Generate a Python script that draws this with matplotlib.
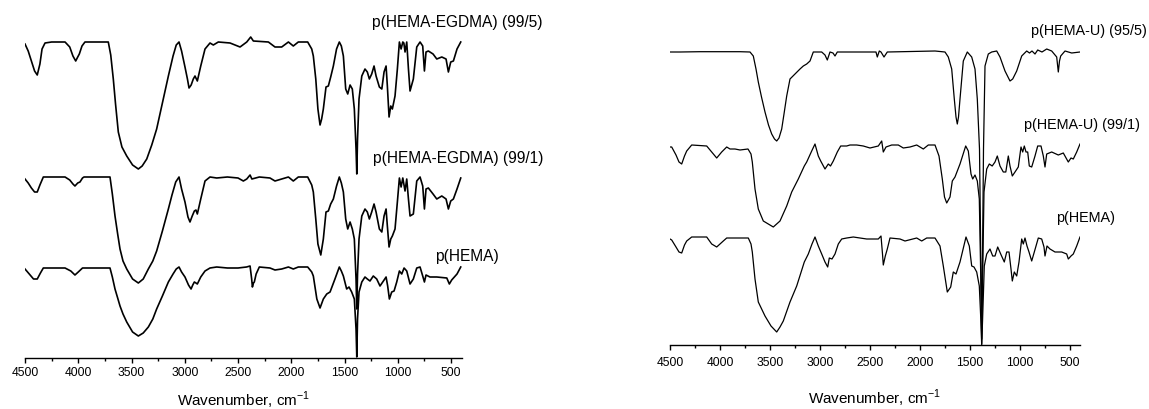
"""
FTIR spectra of p(HEMA) hydrogels: EGDMA crosslinked (left) and U crosslinked (right).
"""

import matplotlib
matplotlib.use("Agg")
import matplotlib.pyplot as plt
from matplotlib.ticker import MultipleLocator

plt.rcParams["font.family"] = ["Liberation Sans", "DejaVu Sans"]
plt.rcParams["mathtext.fontset"] = "custom"
plt.rcParams["mathtext.rm"] = "Liberation Sans"

# ---- left panel: p(HEMA-EGDMA) ----
# y values are read as the trace depth below the top of the panel (stacked display)
egdma5_wn = [4500, 4470, 4440, 4410, 4385, 4360, 4340, 4312, 4250, 4124, 4080, 4050, 4024, 4005, 3990, 3965,
             3937, 3800, 3718, 3695, 3671, 3650, 3624, 3590, 3545, 3490, 3436, 3400, 3357, 3310, 3264, 3210,
             3154, 3110, 3080, 3054, 3030, 2998, 2975, 2960, 2940, 2920, 2904, 2882, 2850, 2810, 2763, 2732,
             2685, 2575, 2481, 2418, 2381, 2356, 2215, 2153, 2090, 2027, 1981, 1934, 1846, 1808, 1793, 1770,
             1750, 1730, 1715, 1699, 1674, 1652, 1630, 1605, 1575, 1549, 1530, 1511, 1489, 1470, 1448, 1427,
             1408, 1392, 1385, 1378, 1364, 1338, 1308, 1286, 1267, 1245, 1223, 1204, 1173, 1150, 1129, 1110,
             1098, 1082, 1066, 1051, 1026, 1004, 985, 969, 953, 943, 932, 916, 900, 885, 854, 822,
             791, 766, 750, 735, 713, 669, 634, 587, 547, 525, 503, 478, 444, 409]
egdma5_y = [45, 52, 62, 72, 76, 65, 50, 44, 43, 43, 48, 57, 62, 58, 55, 47,
            43, 43, 43, 56, 80, 105, 133, 148, 157, 166, 170, 167, 160, 146, 130, 104,
            77, 57, 46, 43, 52, 68, 80, 89, 86, 80, 77, 82, 67, 50, 44, 46,
            43, 44, 48, 43, 38, 42, 43, 48, 48, 43, 47, 43, 43, 50, 57, 80,
            110, 126, 120, 110, 88, 87, 78, 67, 50, 43, 47, 57, 90, 95, 86, 90,
            110, 150, 175, 140, 100, 77, 70, 73, 80, 75, 67, 77, 88, 90, 73, 67,
            87, 118, 107, 110, 97, 70, 43, 50, 43, 44, 53, 43, 70, 92, 80, 48,
            43, 47, 72, 53, 52, 55, 60, 58, 60, 73, 63, 62, 50, 43]

egdma1_wn = [4500, 4470, 4440, 4410, 4385, 4360, 4328, 4250, 4124, 4080, 4050, 4031, 4005, 3984, 3960, 3946,
             3800, 3702, 3680, 3655, 3630, 3608, 3580, 3545, 3490, 3436, 3390, 3342, 3300, 3264, 3210, 3154,
             3120, 3085, 3054, 3030, 2998, 2970, 2951, 2930, 2910, 2895, 2882, 2850, 2810, 2763, 2700, 2600,
             2500, 2450, 2418, 2387, 2370, 2300, 2200, 2153, 2090, 2027, 1981, 1934, 1846, 1808, 1793, 1770,
             1750, 1723, 1699, 1674, 1652, 1630, 1605, 1575, 1549, 1530, 1511, 1489, 1470, 1448, 1427, 1408,
             1392, 1385, 1378, 1364, 1338, 1308, 1286, 1267, 1245, 1223, 1204, 1173, 1150, 1129, 1110, 1098,
             1082, 1066, 1051, 1026, 1004, 985, 969, 953, 932, 916, 900, 885, 854, 822, 791, 766,
             750, 735, 713, 669, 634, 587, 547, 525, 503, 478, 444, 409]
egdma1_y = [180, 184, 189, 193, 193, 186, 178, 178, 178, 181, 185, 187, 184, 183, 179, 178,
            178, 178, 195, 217, 235, 250, 262, 270, 280, 284, 280, 270, 262, 252, 232, 210,
            196, 183, 178, 190, 203, 218, 223, 217, 212, 211, 215, 200, 182, 178, 179, 178,
            179, 182, 180, 176, 180, 178, 179, 182, 180, 178, 182, 178, 178, 186, 193, 220,
            245, 256, 240, 213, 212, 205, 200, 187, 178, 184, 193, 220, 230, 223, 230, 240,
            280, 310, 275, 240, 217, 210, 213, 220, 213, 205, 213, 230, 233, 217, 210, 227,
            248, 240, 237, 230, 203, 179, 188, 179, 192, 180, 200, 217, 215, 182, 178, 187,
            210, 190, 189, 195, 200, 197, 200, 210, 202, 200, 190, 179]

hema_l_wn = [4500, 4460, 4420, 4385, 4355, 4328, 4250, 4124, 4070, 4031, 4000, 3960, 3800, 3702, 3680, 3655,
             3630, 3608, 3580, 3545, 3490, 3436, 3390, 3342, 3300, 3264, 3210, 3154, 3110, 3080, 3054, 3030,
             2998, 2965, 2941, 2925, 2910, 2895, 2882, 2850, 2810, 2763, 2700, 2600, 2500, 2420, 2387, 2372,
             2365, 2355, 2347, 2330, 2300, 2200, 2153, 2090, 2027, 1981, 1934, 1846, 1808, 1793, 1760, 1730,
             1699, 1667, 1636, 1590, 1549, 1530, 1511, 1480, 1458, 1433, 1408, 1392, 1385, 1378, 1364, 1338,
             1308, 1286, 1261, 1230, 1198, 1167, 1135, 1110, 1095, 1079, 1057, 1035, 1010, 985, 963, 941,
             916, 885, 854, 822, 791, 766, 750, 735, 698, 634, 540, 516, 494, 444, 409]
hema_l_y = [270, 275, 280, 280, 274, 269, 269, 269, 272, 276, 273, 269, 269, 269, 278, 290,
            299, 307, 315, 323, 333, 337, 334, 328, 320, 310, 297, 283, 275, 270, 268, 273,
            278, 286, 290, 286, 283, 284, 285, 278, 272, 269, 268, 269, 269, 268, 267, 280,
            288, 284, 283, 275, 268, 269, 271, 270, 268, 270, 268, 268, 273, 277, 300, 309,
            300, 295, 293, 280, 268, 272, 277, 290, 288, 293, 300, 330, 358, 320, 293, 283,
            278, 280, 282, 277, 280, 287, 282, 278, 287, 300, 293, 292, 283, 272, 275, 269,
            272, 285, 280, 269, 268, 277, 283, 276, 278, 278, 279, 285, 281, 275, 268]

# ---- right panel: p(HEMA-U) ----
u5_wn = [4500, 4400, 4200, 3800, 3700, 3667, 3640, 3617, 3585, 3550, 3515, 3483, 3455, 3433, 3410, 3383,
         3360, 3333, 3300, 3250, 3200, 3167, 3133, 3100, 3067, 2983, 2950, 2927, 2900, 2870, 2850, 2827,
         2440, 2427, 2407, 2390, 2360, 2327, 1850, 1750, 1717, 1683, 1657, 1640, 1627, 1615, 1600, 1567,
         1527, 1483, 1450, 1427, 1405, 1392, 1383, 1375, 1365, 1350, 1317, 1283, 1233, 1200, 1150, 1100,
         1073, 1033, 983, 933, 905, 880, 850, 823, 780, 733, 683, 633, 617, 605, 593, 550,
         483, 400]
u5_y = [53, 53, 52.7, 52.7, 53, 57, 70, 83, 98, 113, 126, 135, 140, 142, 139, 130,
        115, 97, 80, 75, 70, 67, 65, 62, 53, 53, 56, 61, 53, 54, 57, 53,
        53, 58, 52, 53, 58, 53, 52, 53, 58, 70, 100, 118, 125, 118, 100, 62,
        53, 58, 70, 100, 150, 260, 340, 260, 150, 67, 55, 53, 52, 58, 72, 82,
        80, 72, 57, 52, 54, 52, 55, 51, 53, 50, 52, 58, 73, 62, 57, 52,
        54, 53]

u1_wn = [4500, 4483, 4440, 4410, 4383, 4355, 4333, 4283, 4133, 4083, 4033, 3983, 3933, 3900, 3850, 3800,
         3720, 3690, 3677, 3650, 3617, 3567, 3467, 3400, 3333, 3283, 3217, 3157, 3133, 3083, 3050, 3017,
         2993, 2950, 2917, 2895, 2867, 2827, 2793, 2733, 2700, 2633, 2567, 2500, 2417, 2383, 2367, 2340,
         2283, 2217, 2167, 2100, 2033, 1967, 1917, 1850, 1810, 1777, 1755, 1733, 1700, 1677, 1650, 1600,
         1543, 1517, 1490, 1473, 1450, 1427, 1407, 1392, 1383, 1374, 1360, 1333, 1307, 1278, 1250, 1227,
         1200, 1167, 1142, 1117, 1100, 1077, 1050, 1017, 990, 973, 957, 940, 923, 907, 883, 850,
         823, 790, 767, 750, 733, 683, 617, 567, 517, 490, 467, 433, 400]
u1_y = [148, 148, 156, 163, 165, 157, 152, 146, 147, 153, 159, 153, 148, 150, 150, 151,
        150, 155, 163, 190, 210, 222, 228, 222, 207, 193, 180, 167, 163, 152, 145, 157,
        162, 170, 165, 167, 162, 153, 147, 147, 146, 146, 147, 149, 147, 142, 153, 148,
        146, 146, 149, 148, 146, 150, 146, 146, 157, 180, 198, 204, 198, 182, 178, 165,
        147, 152, 175, 180, 176, 182, 200, 280, 345, 280, 193, 170, 165, 167, 163, 157,
        167, 173, 173, 157, 167, 177, 173, 168, 148, 153, 147, 153, 153, 167, 168, 157,
        147, 147, 157, 168, 155, 153, 156, 154, 163, 159, 160, 153, 145]

hema_r_wn = [4500, 4483, 4440, 4410, 4383, 4355, 4333, 4283, 4133, 4083, 4033, 3967, 3933, 3717, 3690, 3677,
             3650, 3617, 3550, 3490, 3433, 3400, 3367, 3300, 3233, 3157, 3117, 3080, 3050, 3017, 2983, 2950,
             2923, 2907, 2880, 2850, 2817, 2783, 2733, 2667, 2533, 2417, 2390, 2375, 2367, 2347, 2327, 2300,
             2200, 2150, 2033, 1983, 1933, 1850, 1800, 1767, 1727, 1693, 1667, 1640, 1600, 1540, 1507, 1483,
             1460, 1433, 1407, 1392, 1383, 1374, 1357, 1333, 1300, 1273, 1250, 1223, 1193, 1157, 1133, 1110,
             1090, 1077, 1057, 1033, 1010, 983, 967, 950, 930, 910, 883, 857, 817, 783, 760, 750,
             730, 700, 650, 583, 533, 517, 490, 467, 433, 400]
hema_r_y = [240, 241, 248, 253, 254, 246, 242, 238, 238, 245, 248, 242, 239, 239, 245, 253,
            280, 303, 317, 327, 333, 328, 322, 303, 287, 263, 255, 245, 238, 247, 255, 263,
            268, 259, 260, 255, 245, 240, 239, 238, 240, 240, 237, 255, 266, 257, 250, 239,
            240, 242, 239, 242, 239, 239, 247, 267, 293, 288, 273, 275, 263, 238, 247, 267,
            268, 273, 287, 320, 346, 320, 267, 255, 250, 257, 257, 248, 255, 263, 253, 253,
            270, 282, 273, 277, 263, 240, 245, 239, 247, 253, 262, 253, 239, 240, 248, 257,
            247, 250, 253, 253, 255, 260, 257, 255, 247, 238]

left_labels = ["p(HEMA-EGDMA) (99/5)", "p(HEMA-EGDMA) (99/1)", "p(HEMA)"]
right_labels = ["p(HEMA-U) (95/5)", "p(HEMA-U) (99/1)", "p(HEMA)"]
x_label = r"Wavenumber, cm$^{\mathregular{-1}}$"


def style_axis(ax, depth, tick_pad, label_pad) -> None:
    """
    只保留底部坐标轴，x 轴反向（4500 -> 400）。
    """
    ax.set_xlim(4500, 400)
    ax.set_ylim(depth, 0)
    for side in ["top", "left", "right"]:
        ax.spines[side].set_visible(False)
    ax.spines["bottom"].set_linewidth(1.0)
    ax.set_yticks([])
    ax.xaxis.set_major_locator(MultipleLocator(500))
    ax.xaxis.set_minor_locator(MultipleLocator(250))
    ax.tick_params(axis="x", which="major", direction="out", length=3.3, width=1.0,
                   labelsize=8.7, pad=tick_pad)
    ax.tick_params(axis="x", which="minor", direction="out", length=2.0, width=1.0)
    ax.set_xlabel(x_label, fontsize=11, labelpad=label_pad)
    ax.patch.set_alpha(0)


fig = plt.figure(figsize=(11.49, 4.10), dpi=100)

# left panel
ax1 = fig.add_axes([25 / 1149, 51 / 410, 436.7 / 1149, 359 / 410])
ax1.plot(egdma5_wn, egdma5_y, color="black", lw=1.2)
ax1.plot(egdma1_wn, egdma1_y, color="black", lw=1.2)
ax1.plot(hema_l_wn, hema_l_y, color="black", lw=1.2)
style_axis(ax1, 359, 2.5, 8)
for text, wn, y in zip(left_labels, [1245, 1235, 650], [23, 159, 256]):
    ax1.text(wn, y, text, fontsize=11.2, ha="left", va="center", clip_on=False)

# right panel
ax2 = fig.add_axes([670 / 1149, 64 / 410, 410 / 1149, 346 / 410])
ax2.plot(u5_wn, u5_y, color="black", lw=0.9)
ax2.plot(u1_wn, u1_y, color="black", lw=0.9)
ax2.plot(hema_r_wn, hema_r_y, color="black", lw=0.9)
style_axis(ax2, 346, 4.5, 13.5)
for text, wn, y in zip(right_labels, [890, 960, 640], [31, 125, 218]):
    ax2.text(wn, y, text, fontsize=10.4, ha="left", va="center", clip_on=False)

fig.savefig("out.png", dpi=100)
